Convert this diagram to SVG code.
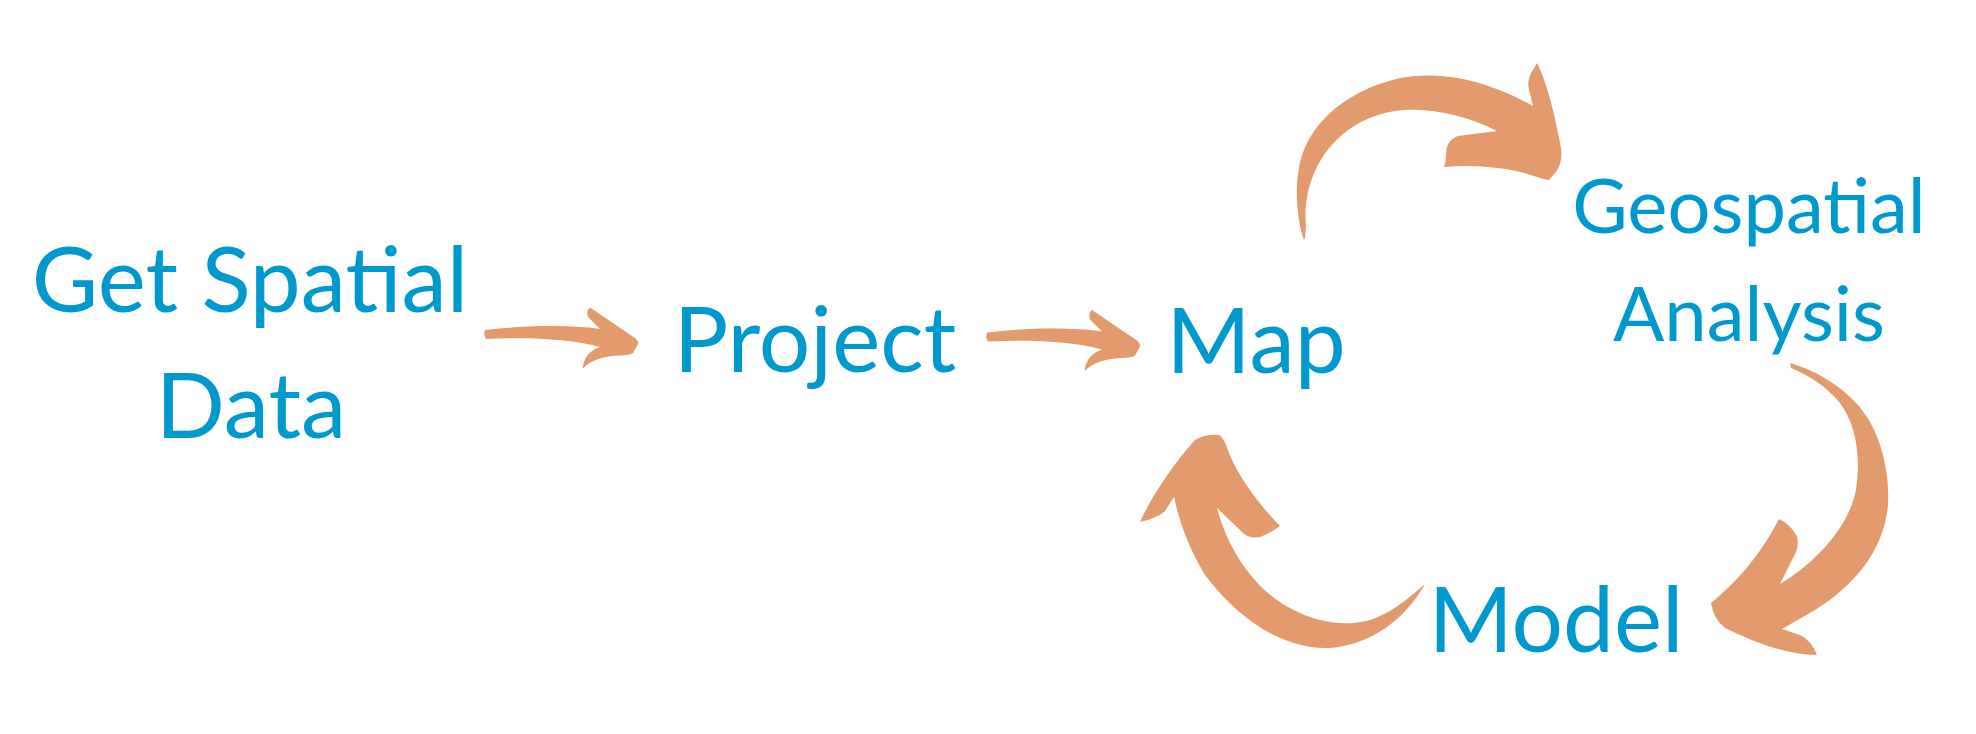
<svg xmlns="http://www.w3.org/2000/svg" width="1976" height="734" viewBox="0 0 1976 734">
<style>
.lbl{font-family:Lato,"Liberation Sans",sans-serif;fill:#0099cf;text-anchor:middle}
.big{font-size:91px}
.sm{font-size:76px}
.arw{fill:#e39a6d;stroke:none}
</style>
<rect width="1976" height="734" fill="#ffffff"/>
<g id="connectors">
<path id="a1" class="arw" d="M485,330 C520,326 565,324 600,329 L588,317 Q586,310 590,307.5 L635,338 Q640,342 637,346 L633,353 Q630,355 620,355.5 C605,356 590,360 583,368.5 C583,362 586,352 600,347 C570,339 530,337 486,339 Q483,335 485,330 Z"/>
<use id="a2" href="#a1" transform="translate(502,2.5)"/>
<path id="a3" class="arw" d="M1304,240 C1298,225 1295,195 1298,175 C1302,130 1340,92 1400,78 C1445,70 1490,82 1533,106 L1529,90 Q1527,80 1531,73 L1537,63 C1548,85 1556,120 1561,148 Q1563,162 1556,172 L1549,180 Q1545,180 1537,177 C1515,169 1480,164 1444,167 Q1446,162 1446,155 Q1446,140 1458,136 L1497,131 C1470,117 1435,108 1405,110 C1370,112 1340,130 1322,158 C1308,180 1304,205 1306,225 L1305,238 Z"/>
<path id="a4" class="arw" d="M1790,363 C1815,370 1840,385 1858,405 C1880,430 1890,470 1888,505 C1884,550 1855,585 1815,610 L1782,629 L1800,635 Q1811,640 1817,655 C1790,655 1760,645 1725,628 Q1714,620 1711,603 L1717,598 C1740,578 1760,555 1779,519 Q1790,524 1797,536 Q1800,547 1792,560 L1780,584 C1812,565 1848,530 1856,490 C1861,455 1856,425 1840,403 C1825,385 1808,375 1791,368 Z"/>
<path id="a5" class="arw" d="M1425,584 C1405,620 1370,645 1330,648 C1280,650 1235,615 1205,575 C1190,550 1180,525 1174,497 L1165,511 Q1158,518 1140,522 C1152,495 1175,462 1195,440 Q1205,434 1219,435 Q1223,437 1226,445 C1235,472 1255,500 1280,526 Q1275,530 1265,535 Q1250,542 1240,530 L1217,508 C1228,550 1255,590 1290,608 C1320,625 1355,628 1380,616 C1398,608 1412,595 1425,584 Z"/>
</g>
<g id="node-get-spatial-data">
<text class="lbl big" x="250" y="312">Get Spatial</text>
<text class="lbl big" x="251" y="438">Data</text>
</g>
<g id="node-project">
<text class="lbl big" x="815" y="372">Project</text>
</g>
<g id="node-map">
<text class="lbl big" x="1256" y="373">Map</text>
</g>
<g id="node-geospatial-analysis">
<text class="lbl sm" x="1749" y="233">Geospatial</text>
<text class="lbl sm" x="1749" y="341">Analysis</text>
</g>
<g id="node-model">
<text class="lbl big" x="1556" y="652">Model</text>
</g>
</svg>
